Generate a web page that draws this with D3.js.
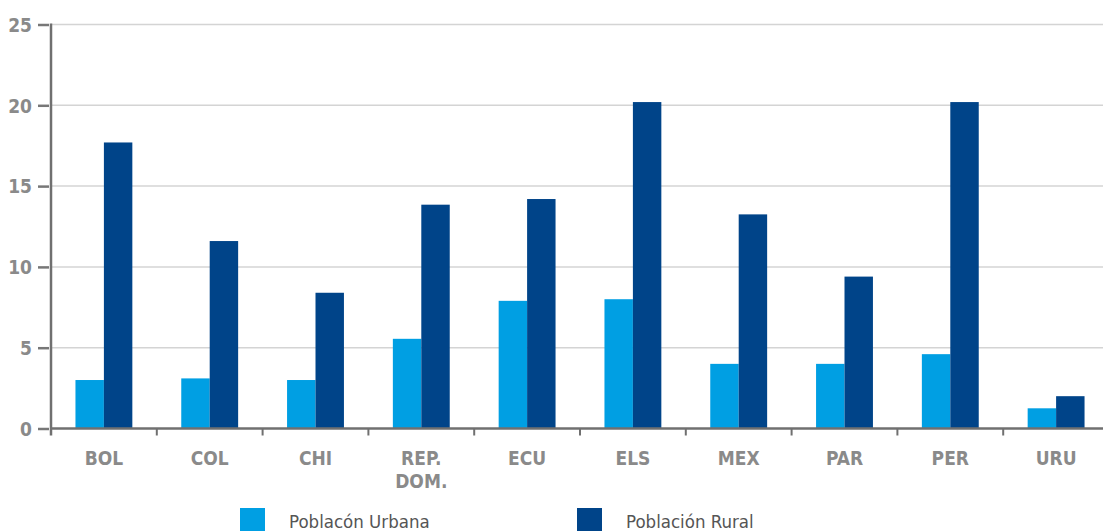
<!DOCTYPE html>
<html>
<head>
<meta charset="utf-8">
<script src="https://cdn.jsdelivr.net/npm/d3@7"></script>
<style>
  html, body { margin: 0; padding: 0; background: #fff; overflow: hidden; }
  svg { display: block; }
</style>
</head>
<body>
<div id="container"></div>
<script>
const categories = ['BOL', 'COL', 'CHI', 'REP.|DOM.', 'ECU', 'ELS', 'MEX', 'PAR', 'PER', 'URU'];
const urbana = [3.0, 3.1, 3.0, 5.55, 7.9, 8.0, 4.0, 4.0, 4.6, 1.25];
const rural = [17.7, 11.6, 8.4, 13.85, 14.2, 20.2, 13.25, 9.4, 20.2, 2.0];
const yTicks = [0, 5, 10, 15, 20, 25];
const seriesNames = ['Poblacón Urbana', 'Población Rural'];
const colors = ['#009fe3', '#004489'];

const width = 1103; const height = 531;
const margin = {left: 51, top: 24.5, bottom: 102.5};
const plotRight = 1109;
const font = '"DejaVu Sans Condensed", "DejaVu Sans", sans-serif';
const svg = d3.select('#container').append('svg')
    .attr('width', width).attr('height', height);

const x = d3.scaleBand().domain(categories)
    .range([margin.left, plotRight]).paddingInner(0).paddingOuter(0);
const x1 = d3.scaleBand().domain([0, 1])
    .range([0, x.bandwidth()]).paddingOuter(0.86).paddingInner(0);
const y = d3.scaleLinear().domain([0, 25]).range([height - margin.bottom, margin.top]);

// grid
svg.append('g').selectAll('line').data(yTicks.filter((d) => d > 0)).enter().append('line')
    .attr('x1', margin.left).attr('x2', width)
    .attr('y1', (d) => y(d)).attr('y2', (d) => y(d))
    .attr('stroke', '#d4d4d4').attr('stroke-width', 1.5);

// bars
const groups = svg.append('g').selectAll('g').data(categories).enter().append('g')
    .attr('transform', (d) => 'translate(' + x(d) + ',0)');
groups.selectAll('rect').data((d, i) => [urbana[i], rural[i]]).enter().append('rect')
    .attr('x', (d, j) => x1(j)).attr('width', x1.bandwidth())
    .attr('y', (d) => y(d)).attr('height', (d) => y(0) - y(d))
    .attr('fill', (d, j) => colors[j]);

// y axis
const yAxis = svg.append('g').attr('transform', 'translate(' + margin.left + ',0)')
    .call(d3.axisLeft(y).tickValues(yTicks).tickSize(0).tickPadding(0));
yAxis.select('.domain').remove();
yAxis.selectAll('.tick line').remove();
yAxis.selectAll('.tick').append('line')
    .attr('x1', -13).attr('x2', -2).attr('stroke', '#777').attr('stroke-width', 2.5);
yAxis.selectAll('.tick text')
    .attr('x', -19).attr('dy', '0.36em')
    .style('font-family', font)
    .style('font-weight', 'bold').style('font-size', '19px').attr('fill', '#8a8a8a');
yAxis.append('line').attr('x1', 0).attr('x2', 0)
    .attr('y1', margin.top - 1).attr('y2', y(0) + 7)
    .attr('stroke', '#707070').attr('stroke-width', 2.5);

// x axis
const xAxis = svg.append('g').attr('transform', 'translate(0,' + y(0) + ')');
xAxis.append('line').attr('x1', margin.left).attr('x2', width)
    .attr('stroke', '#707070').attr('stroke-width', 2.5);
xAxis.selectAll('.sep').data(categories.slice(1)).enter().append('line')
    .attr('class', 'sep')
    .attr('x1', (d) => x(d)).attr('x2', (d) => x(d))
    .attr('y1', 0).attr('y2', 7)
    .attr('stroke', '#707070').attr('stroke-width', 2);
const xl = xAxis.selectAll('.lab').data(categories).enter().append('text')
    .attr('class', 'lab')
    .attr('x', (d) => x(d) + x.bandwidth() / 2).attr('y', 36)
    .attr('text-anchor', 'middle')
    .style('font-family', font)
    .style('font-weight', 'bold').style('font-size', '19px').attr('fill', '#8a8a8a');
xl.each(function(d) {
  const parts = d.split('|');
  d3.select(this).selectAll('tspan').data(parts).enter().append('tspan')
      .attr('x', x(d) + x.bandwidth() / 2)
      .attr('dy', (p, k) => k === 0 ? 0 : 23)
      .text((p) => p);
});

// legend
const legendX = [240, 577];
const legend = svg.append('g').selectAll('g').data(seriesNames).enter().append('g')
    .attr('transform', (d, i) => 'translate(' + legendX[i] + ',508)');
legend.append('rect').attr('width', 25).attr('height', 23)
    .attr('fill', (d, i) => colors[i]);
legend.append('text').attr('x', 49).attr('y', 20)
    .style('font-family', font)
    .style('font-size', '18.5px').attr('fill', '#555')
    .text((d) => d);
</script>
</body>
</html>
